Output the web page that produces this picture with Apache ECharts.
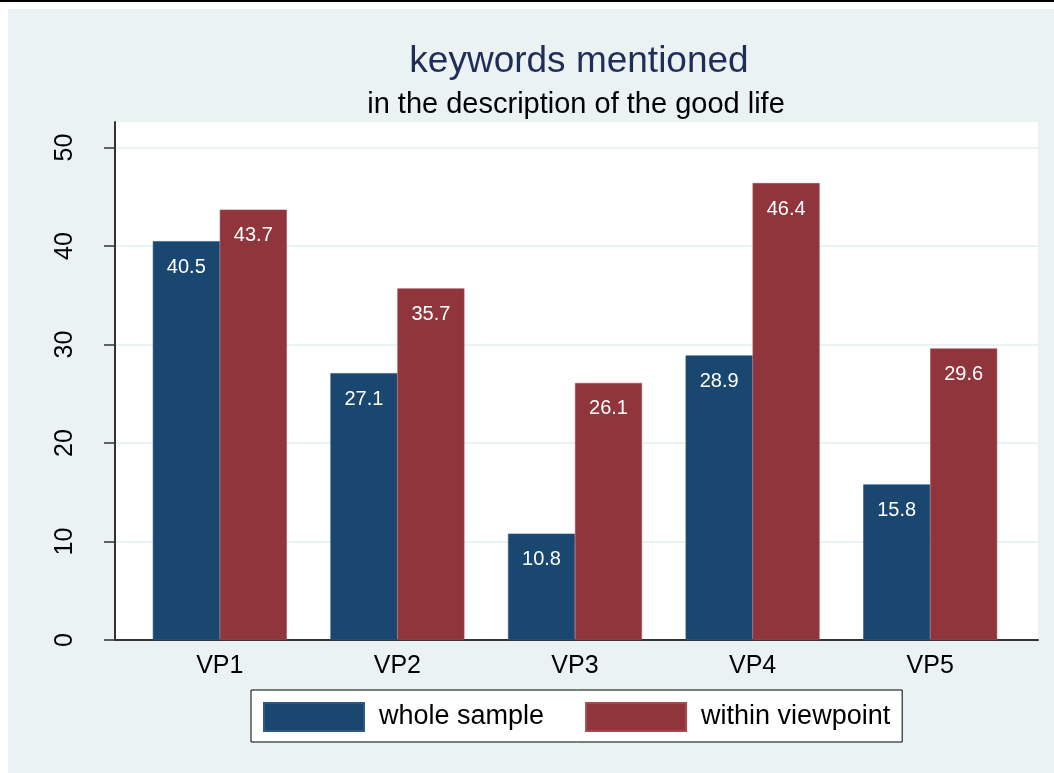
<!DOCTYPE html>
<html>
<head>
<meta charset="utf-8">
<script src="https://cdn.jsdelivr.net/npm/echarts@6/dist/echarts.min.js"></script>
<style>
  html, body { margin: 0; padding: 0; background: #fff; }
  #chart { width: 1054px; height: 773px; }
</style>
</head>
<body>
<div id="chart"></div>
<script>
// 資料
const categories = ['VP1', 'VP2', 'VP3', 'VP4', 'VP5'];
const wholeSample = [40.5, 27.1, 10.8, 28.9, 15.8];
const withinViewpoint = [43.7, 35.7, 26.1, 46.4, 29.6];
const yTicks = [0, 10, 20, 30, 40, 50];

const navy = '#1a476f';
const maroon = '#90353b';
const bg = '#eaf2f3';
const font = 'Liberation Sans, Arial, sans-serif';

const chart = echarts.init(document.getElementById('chart'));

const labelStyle = {
  show: true,
  position: 'insideTop',
  distance: 16,
  color: '#fff',
  fontSize: 20,
  fontFamily: font,
  formatter: (p) => p.value.toFixed(1),
};

const option = {
  backgroundColor: '#fff',
  animation: false,
  graphic: [
    { type: 'rect', left: 0, top: 0, shape: { width: 1054, height: 2 }, style: { fill: '#000' }, z: -10 },
    { type: 'rect', left: 8, top: 9, shape: { width: 1046, height: 764 }, style: { fill: bg }, z: -10 },
  ],
  title: [
    {
      text: 'keywords mentioned',
      left: 574, top: 38, textAlign: 'center',
      textStyle: { color: '#1f2d57', fontSize: 37, fontWeight: 'normal', fontFamily: font },
    },
    {
      text: 'in the description of the good life',
      left: 571, top: 85, textAlign: 'center',
      textStyle: { color: '#000', fontSize: 29, fontWeight: 'normal', fontFamily: font },
    },
  ],
  legend: {
    left: 251,
    top: 690,
    orient: 'horizontal',
    backgroundColor: '#fff',
    borderColor: '#000',
    borderWidth: 1,
    borderRadius: 0,
    padding: [12, 12, 10, 12],
    itemWidth: 100,
    itemHeight: 28,
    itemGap: 41,
    icon: 'rect',
    textStyle: { color: '#000', fontSize: 27, fontFamily: font, padding: [0, 0, 0, 10] },
    data: ['whole sample', 'within viewpoint'],
  },
  grid: [
    { left: 115, right: 16, top: 122, bottom: 133, show: true, backgroundColor: '#fff', borderWidth: 0 },
    { left: 131, right: 35, top: 122, bottom: 133 },
  ],
  xAxis: [
    {
      gridIndex: 0, type: 'category', data: categories,
      axisLine: { show: true, lineStyle: { color: '#333', width: 2 } },
      axisTick: { show: false }, axisLabel: { show: false }, splitLine: { show: false },
    },
    {
      gridIndex: 1, type: 'category', data: categories,
      axisLine: { show: false }, axisTick: { show: false },
      axisLabel: { color: '#000', fontSize: 25, fontFamily: font, margin: 14 },
    },
  ],
  yAxis: [
    {
      gridIndex: 0, type: 'value', min: 0, max: 52.6, interval: 10,
      axisLine: { show: true, lineStyle: { color: '#333', width: 2 } },
      axisTick: { show: true, length: 11, customValues: yTicks, lineStyle: { color: '#333', width: 1.5 } },
      axisLabel: {
        customValues: yTicks, rotate: 90, margin: 37,
        color: '#000', fontSize: 25, fontFamily: font,
      },
      splitLine: { show: true, lineStyle: { color: bg, width: 2 } },
    },
    {
      gridIndex: 1, type: 'value', min: 0, max: 52.6, interval: 10,
      show: false, splitLine: { show: false },
    },
  ],
  series: [
    {
      name: 'whole sample', type: 'bar', xAxisIndex: 1, yAxisIndex: 1,
      data: wholeSample, barWidth: 67, barGap: '0%',
      itemStyle: { color: navy, borderColor: '#2b5a85', borderWidth: 0.6 },
      label: labelStyle,
    },
    {
      name: 'within viewpoint', type: 'bar', xAxisIndex: 1, yAxisIndex: 1,
      data: withinViewpoint, barWidth: 67, barGap: '0%',
      itemStyle: { color: maroon, borderColor: '#a54a50', borderWidth: 0.6 },
      label: labelStyle,
    },
  ],
};

chart.setOption(option);
</script>
</body>
</html>
